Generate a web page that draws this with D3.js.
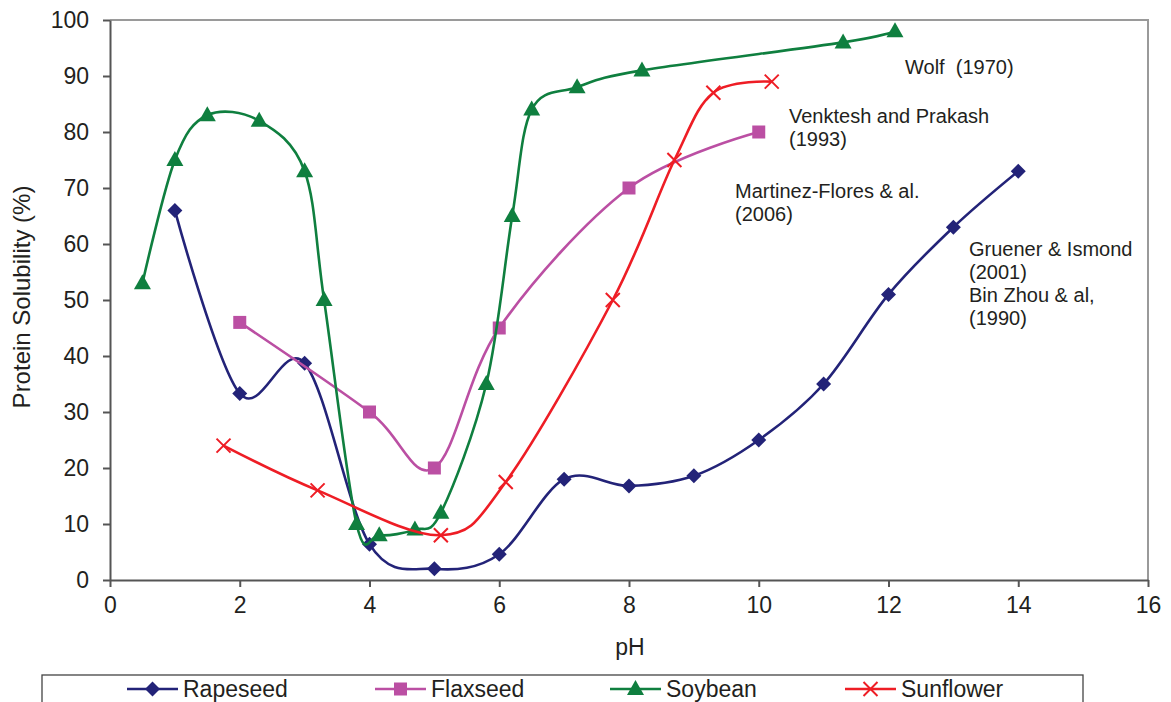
<!DOCTYPE html>
<html lang="en">
<head>
    <meta charset="UTF-8">
    <title>Protein Solubility vs pH</title>
    <style>
        body { margin: 0; background: #fff; }
        text { font-family: "Liberation Sans", Arial, sans-serif; fill: #231f20; }
        .axis path, .axis line { stroke: #555; stroke-width: 2px; }
        .axis text { font-size: 23px; fill: #231f20; }
        .note { font-size: 20px; white-space: pre; }
    </style>
</head>
<body>
<script src="https://d3js.org/d3.v7.min.js"></script>
<script>
    // data
    const rapeseedPH = [1, 2, 3, 4, 5, 6, 7, 8, 9, 10, 11, 12, 13, 14];
    const rapeseedSol = [66, 33.3, 38.7, 6.4, 2, 4.6, 18, 16.8, 18.6, 25, 35, 51, 63, 73];

    const flaxseedPH = [2, 4, 5, 6, 8, 10];
    const flaxseedSol = [46, 30, 20, 45, 70, 80];

    const soybeanPH = [0.5, 1, 1.5, 2.3, 3, 3.3, 3.8, 4.15, 4.7, 5.1, 5.8, 6.2, 6.5, 7.2, 8.2, 11.3, 12.1];
    const soybeanSol = [53, 75, 83, 82, 73, 50, 10, 8, 9, 12, 35, 65, 84, 88, 91, 96, 98];

    const sunflowerPH = [1.75, 3.2, 5.1, 6.1, 7.75, 8.7, 9.3, 10.2];
    const sunflowerSol = [24, 16, 8, 17.5, 50, 75, 87, 89];

    const xTicks = [0, 2, 4, 6, 8, 10, 12, 14, 16];
    const yTicks = [0, 10, 20, 30, 40, 50, 60, 70, 80, 90, 100];

    const notes = [
        { x: 905, y: 74, lines: ["Wolf  (1970)"] },
        { x: 789, y: 123, lines: ["Venktesh and Prakash", "(1993)"] },
        { x: 735, y: 198, lines: ["Martinez-Flores & al.", "(2006)"] },
        { x: 969, y: 256, lines: ["Gruener & Ismond", "(2001)", "Bin Zhou & al,", "(1990)"] }
    ];

    const series = [
        { name: "Rapeseed", xs: rapeseedPH, ys: rapeseedSol, color: "#232378", marker: "diamond", legendX: 127 },
        { name: "Flaxseed", xs: flaxseedPH, ys: flaxseedSol, color: "#bb4fa3", marker: "square", legendX: 375 },
        { name: "Soybean", xs: soybeanPH, ys: soybeanSol, color: "#0f7f3f", marker: "triangle", legendX: 610 },
        { name: "Sunflower", xs: sunflowerPH, ys: sunflowerSol, color: "#ee1d25", marker: "cross", legendX: 845 }
    ];

    const W = 1171, H = 702;
    const svg = d3.select("body").append("svg").attr("width", W).attr("height", H);

    const x = d3.scaleLinear().domain([0, 16]).range([110, 1148]);
    const y = d3.scaleLinear().domain([0, 100]).range([580, 20]);

    // grey plot frame (top & right)
    svg.append("path")
        .attr("d", `M${x(0)},${y(100)}H${x(16)}V${y(0)}`)
        .attr("fill", "none").attr("stroke", "#9a9a9a").attr("stroke-width", 2);

    svg.append("g").attr("class", "axis")
        .attr("transform", `translate(0,${y(0)})`)
        .call(d3.axisBottom(x).tickValues(xTicks).tickSize(7).tickSizeOuter(0).tickPadding(10))
        .selectAll("text").attr("dy", "0.71em");

    svg.append("g").attr("class", "axis")
        .attr("transform", `translate(${x(0)},0)`)
        .call(d3.axisLeft(y).tickValues(yTicks).tickSize(7).tickSizeOuter(0).tickPadding(14));

    svg.append("text").attr("x", 630).attr("y", 655)
        .attr("text-anchor", "middle").style("font-size", "23px").text("pH");

    svg.append("text")
        .attr("transform", "translate(30,297) rotate(-90)")
        .attr("text-anchor", "middle").style("font-size", "24px")
        .text("Protein Solubility (%)");

    const markerPath = {
        diamond: "M0,-7.5L7.5,0L0,7.5L-7.5,0Z",
        square: "M-6.5,-6.5H6.5V6.5H-6.5Z",
        triangle: "M0,-9L8.5,6L-8.5,6Z"
    };

    function drawMarker(g, kind, color) {
        if (kind === "cross") {
            g.append("path").attr("d", "M-7,-7L7,7M-7,7L7,-7")
                .attr("stroke", color).attr("stroke-width", 2).attr("fill", "none");
        } else {
            g.append("path").attr("d", markerPath[kind]).attr("fill", color);
        }
    }

    const line = d3.line()
        .x(d => x(d[0])).y(d => y(d[1]))
        .curve(d3.curveCatmullRom.alpha(0));

    series.forEach(s => {
        const pts = s.xs.map((v, i) => [v, s.ys[i]]);
        svg.append("path").datum(pts)
            .attr("d", line)
            .attr("fill", "none").attr("stroke", s.color).attr("stroke-width", 2.6);
        pts.forEach(p => {
            const g = svg.append("g").attr("transform", `translate(${x(p[0])},${y(p[1])})`);
            drawMarker(g, s.marker, s.color);
        });
    });

    // annotations
    notes.forEach(n => {
        const t = svg.append("text").attr("class", "note").attr("x", n.x).attr("y", n.y)
            .attr("xml:space", "preserve");
        n.lines.forEach((l, i) => {
            t.append("tspan").attr("x", n.x).attr("dy", i === 0 ? 0 : 23).text(l);
        });
    });

    // legend
    const legend = svg.append("g");
    legend.append("rect").attr("x", 42).attr("y", 675).attr("width", 1041).attr("height", 40)
        .attr("fill", "#fff").attr("stroke", "#444").attr("stroke-width", 1.3);
    series.forEach(s => {
        const g = legend.append("g").attr("transform", `translate(${s.legendX},689)`);
        g.append("line").attr("x1", 0).attr("x2", 51).attr("stroke", s.color).attr("stroke-width", 2.6);
        const m = g.append("g").attr("transform", "translate(25.5,0)");
        drawMarker(m, s.marker, s.color);
        g.append("text").attr("x", 56).attr("y", 0).attr("dy", "0.36em")
            .style("font-size", "23px").text(s.name);
    });
</script>
</body>
</html>
